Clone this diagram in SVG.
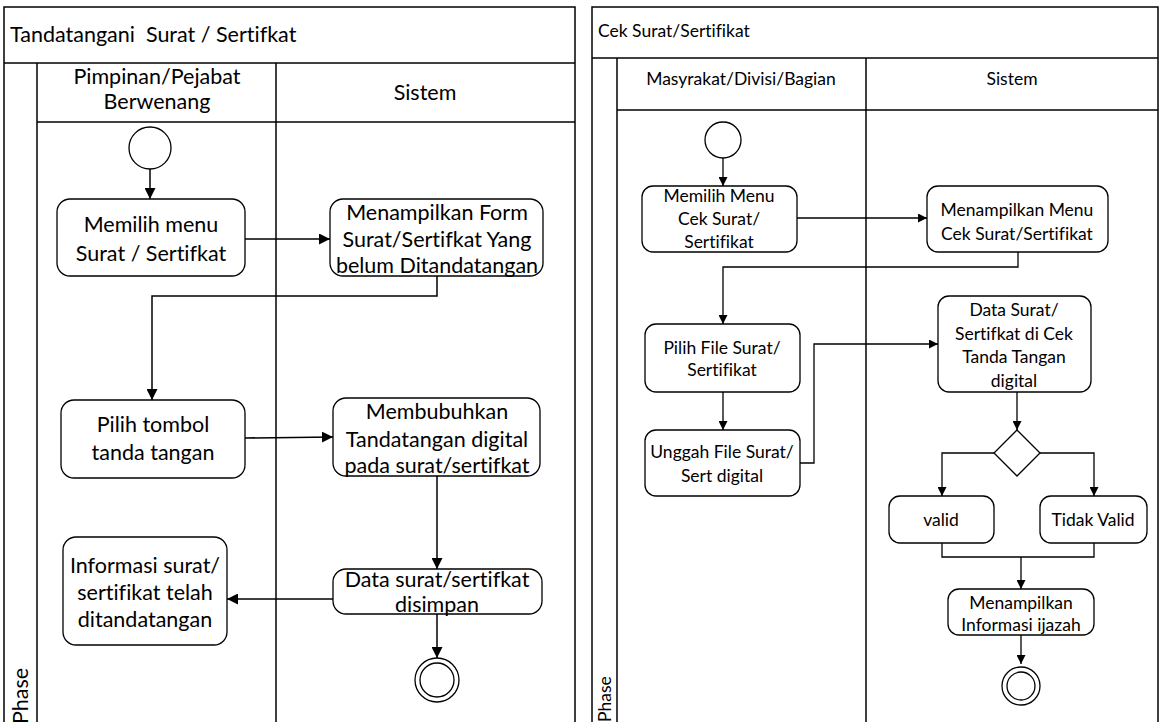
<svg xmlns="http://www.w3.org/2000/svg" width="1161" height="722" viewBox="0 0 1161 722">
<style>
.frame{fill:#fff;stroke:#000;stroke-width:1.5}
.ln{stroke:#000;stroke-width:1.5;fill:none}
.node{fill:#fff;stroke:#000;stroke-width:1.3}
.t{font-family:Lato,"Liberation Sans",sans-serif;fill:#000;text-anchor:middle;font-variant-ligatures:none;font-feature-settings:"liga" 0,"clig" 0,"dlig" 0;white-space:pre}
.L{font-size:21.5px}
.R{font-size:17.5px}
.s{text-anchor:start}
.conn{stroke:#000;stroke-width:1.5;fill:none;marker-end:url(#ah)}
.connR{stroke:#000;stroke-width:1.3;fill:none;marker-end:url(#ahs)}
</style>
<defs>
<marker id="ah" viewBox="0 0 10 10" refX="10" refY="5" markerWidth="11" markerHeight="11" markerUnits="userSpaceOnUse" orient="auto"><path d="M0,0 L10,5 L0,10z" fill="#000"/></marker>
<marker id="ahs" viewBox="0 0 10 10" refX="10" refY="5" markerWidth="9" markerHeight="9" markerUnits="userSpaceOnUse" orient="auto"><path d="M0,0 L10,5 L0,10z" fill="#000"/></marker>
</defs>
<rect width="1161" height="722" fill="#fff"/>

<!-- LEFT DIAGRAM -->
<g id="left-pool">
<rect class="frame" x="4" y="7" width="571" height="730"/>
<line class="ln" x1="4" y1="63" x2="575" y2="63"/>
<line class="ln" x1="37" y1="63" x2="37" y2="722"/>
<line class="ln" x1="37" y1="122" x2="575" y2="122"/>
<line class="ln" x1="276" y1="63" x2="276" y2="722"/>
<text class="t L s" x="10" y="42" xml:space="preserve">Tandatangani  Surat / Sertifkat</text>
<text class="t L" x="157" y="84">Pimpinan/Pejabat</text>
<text class="t L" x="157" y="109">Berwenang</text>
<text class="t L" x="425" y="100">Sistem</text>
<text class="t L s" transform="translate(28,724) rotate(-90)">Phase</text>
</g>

<g id="left-connectors">
<path class="conn" d="M150,169 V199"/>
<path class="conn" d="M245,239 H330"/>
<path class="conn" d="M437,276 V296 H152 V400"/>
<path class="conn" d="M245,438 L333,437"/>
<path class="conn" d="M437,476 V569"/>
<path class="conn" d="M333,599 H227"/>
<path class="conn" d="M437,614 V658"/>
</g>

<g id="l-start"><circle class="node" cx="150" cy="148" r="21"/></g>
<g id="l-memilih">
<rect class="node" x="57" y="199" width="188" height="77" rx="13"/>
<text class="t L" x="151" y="232">Memilih menu</text>
<text class="t L" x="151" y="261">Surat / Sertifkat</text>
</g>
<g id="l-form">
<rect class="node" x="330" y="199" width="213" height="77" rx="13"/>
<text class="t L" x="437" y="220">Menampilkan Form</text>
<text class="t L" x="437" y="247">Surat/Sertifkat Yang</text>
<text class="t L" x="437" y="273">belum Ditandatangan</text>
</g>
<g id="l-tombol">
<rect class="node" x="61" y="400" width="184" height="78" rx="13"/>
<text class="t L" x="153" y="432">Pilih tombol</text>
<text class="t L" x="153" y="460">tanda tangan</text>
</g>
<g id="l-bubuh">
<rect class="node" x="333" y="398" width="207" height="78" rx="13"/>
<text class="t L" x="437" y="419">Membubuhkan</text>
<text class="t L" x="437" y="447">Tandatangan digital</text>
<text class="t L" x="437" y="473">pada surat/sertifkat</text>
</g>
<g id="l-data">
<rect class="node" x="333" y="569" width="209" height="45" rx="13"/>
<text class="t L" x="437" y="587">Data surat/sertifkat</text>
<text class="t L" x="437" y="612">disimpan</text>
</g>
<g id="l-info">
<rect class="node" x="63" y="537" width="164" height="108" rx="13"/>
<text class="t L" x="145" y="573">Informasi surat/</text>
<text class="t L" x="145" y="600">sertifikat telah</text>
<text class="t L" x="145" y="627">ditandatangan</text>
</g>
<g id="l-end">
<circle class="node" cx="437" cy="680" r="22"/>
<circle class="node" cx="437" cy="680" r="17"/>
</g>

<!-- RIGHT DIAGRAM -->
<g id="right-pool">
<rect class="frame" x="592" y="7" width="566" height="730"/>
<line class="ln" x1="592" y1="58" x2="1158" y2="58"/>
<line class="ln" x1="617" y1="58" x2="617" y2="722"/>
<line class="ln" x1="617" y1="110" x2="1158" y2="110"/>
<line class="ln" x1="866" y1="58" x2="866" y2="722"/>
<text class="t R s" x="598" y="37">Cek Surat/Sertifikat</text>
<text class="t R" x="741" y="85">Masyrakat/Divisi/Bagian</text>
<text class="t R" x="1012" y="85">Sistem</text>
<text class="t R s" transform="translate(611,722) rotate(-90)">Phase</text>
</g>

<g id="right-connectors">
<path class="connR" d="M723,158 V186"/>
<path class="connR" d="M797,218 H927"/>
<path class="connR" d="M1018,252 V267 H723 V324"/>
<path class="connR" d="M723,392 V430"/>
<path class="connR" d="M800,463 H814 V344 H938"/>
<path class="connR" d="M1017,392 V430"/>
<path class="connR" d="M994,453 H942 V496"/>
<path class="connR" d="M1040,453 H1094 V496"/>
<path class="ln" style="stroke-width:1.3" d="M942,543 V557 H1094 V543"/>
<path class="connR" d="M1021,557 V589"/>
<path class="connR" d="M1021,635 V664"/>
</g>

<g id="r-start"><circle class="node" cx="723" cy="140" r="18"/></g>
<g id="r-memilih">
<rect class="node" x="642" y="186" width="155" height="66" rx="11"/>
<text class="t R" x="719" y="202">Memilih Menu</text>
<text class="t R" x="719" y="225">Cek Surat/</text>
<text class="t R" x="719" y="248">Sertifikat</text>
</g>
<g id="r-menu">
<rect class="node" x="927" y="186" width="181" height="66" rx="11"/>
<text class="t R" x="1017" y="216">Menampilkan Menu</text>
<text class="t R" x="1017" y="240">Cek Surat/Sertifikat</text>
</g>
<g id="r-pilih">
<rect class="node" x="645" y="324" width="155" height="68" rx="11"/>
<text class="t R" x="722" y="354">Pilih File Surat/</text>
<text class="t R" x="722" y="376">Sertifikat</text>
</g>
<g id="r-unggah">
<rect class="node" x="645" y="430" width="155" height="66" rx="11"/>
<text class="t R" x="722" y="458">Unggah File Surat/</text>
<text class="t R" x="722" y="482">Sert digital</text>
</g>
<g id="r-cek">
<rect class="node" x="938" y="296" width="153" height="96" rx="11"/>
<text class="t R" x="1014" y="316">Data Surat/</text>
<text class="t R" x="1014" y="340">Sertifkat di Cek</text>
<text class="t R" x="1014" y="363">Tanda Tangan</text>
<text class="t R" x="1014" y="387">digital</text>
</g>
<g id="r-decision"><path class="node" d="M1017,430 L1040,453 L1017,476 L994,453 Z"/></g>
<g id="r-valid">
<rect class="node" x="889" y="496" width="105" height="47" rx="11"/>
<text class="t R" x="941" y="526">valid</text>
</g>
<g id="r-tidak">
<rect class="node" x="1040" y="496" width="107" height="47" rx="11"/>
<text class="t R" x="1093" y="526">Tidak Valid</text>
</g>
<g id="r-info">
<rect class="node" x="948" y="589" width="146" height="46" rx="11"/>
<text class="t R" x="1021" y="609">Menampilkan</text>
<text class="t R" x="1021" y="631">Informasi ijazah</text>
</g>
<g id="r-end">
<circle class="node" cx="1021" cy="686" r="19"/>
<circle class="node" cx="1021" cy="686" r="14"/>
</g>
</svg>
